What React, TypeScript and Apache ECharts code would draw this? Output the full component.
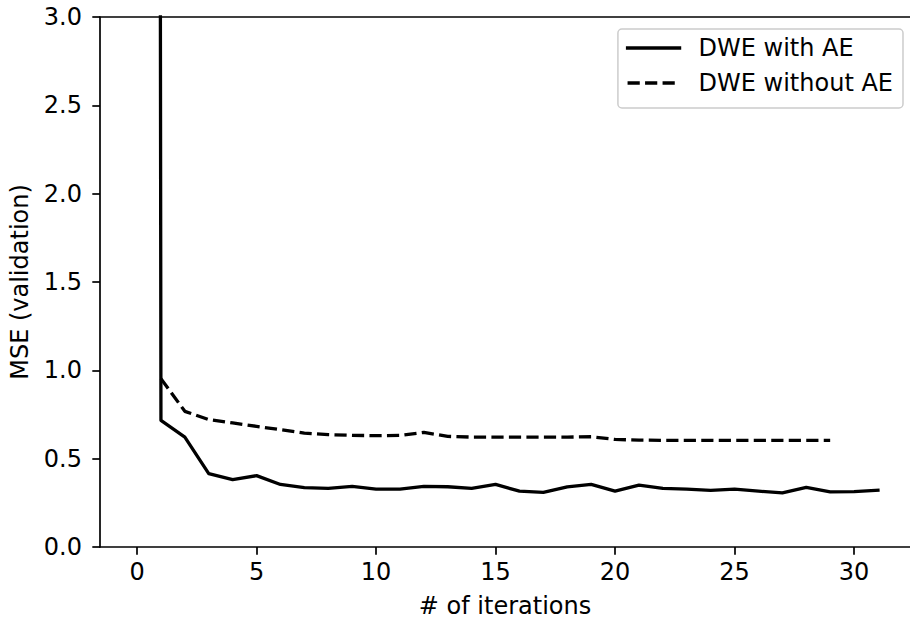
import React, { useEffect, useRef } from "react";
import * as echarts from "echarts";

const solidIterations = [0,1,2,3,4,5,6,7,8,9,10,11,12,13,14,15,16,17,18,19,20,21,22,23,24,25,26,27,28,29,30,31];
const solidValues = [100, 0.717, 0.622, 0.415, 0.381, 0.404, 0.354, 0.336, 0.332, 0.343, 0.328, 0.328, 0.343, 0.341, 0.332, 0.354, 0.316, 0.309, 0.34, 0.354, 0.316, 0.35, 0.332, 0.328, 0.32, 0.328, 0.316, 0.306, 0.338, 0.312, 0.313, 0.321];
const dashedIterations = [1,2,3,4,5,6,7,8,9,10,11,12,13,14,15,16,17,18,19,20,21,22,23,24,25,26,27,28,29];
const dashedValues = [0.953, 0.768, 0.721, 0.702, 0.683, 0.664, 0.645, 0.636, 0.632, 0.63, 0.632, 0.649, 0.626, 0.622, 0.622, 0.622, 0.622, 0.622, 0.624, 0.609, 0.605, 0.604, 0.604, 0.604, 0.603, 0.603, 0.603, 0.603, 0.603];
const xTicks = [0, 5, 10, 15, 20, 25, 30];
const yTicks = [0, 0.5, 1.0, 1.5, 2.0, 2.5, 3.0];
const seriesNames = ["DWE with AE", "DWE without AE"];

const FONT = "'DejaVu Sans', sans-serif";
const FS = 24;
const LW = 3.3;
const DASH = [12.2, 5.3];
const X_MIN = -1.55;
const X_MAX = 32.34;

export default function App() {
  const ref = useRef<HTMLDivElement>(null);
  useEffect(() => {
    document.body.style.margin = "0";
    if (!ref.current) return;
    const chart = echarts.init(ref.current, null, { renderer: "svg" });
    const solid = solidIterations.map((x, i) => [x, solidValues[i]]);
    const dashed = dashedIterations.map((x, i) => [x, dashedValues[i]]);
    chart.setOption({
      animation: false,
      backgroundColor: "#ffffff",
      textStyle: { fontFamily: FONT },
      grid: {
        left: 100,
        top: 17,
        right: 0,
        bottom: 72,
        outerBoundsMode: "none",
        containLabel: false,
        show: false,
      },
      legend: {
        orient: "vertical",
        right: 7,
        top: 29,
        padding: [7, 10, 13, 8],
        itemWidth: 52,
        itemHeight: 14,
        itemGap: 11,
        itemStyle: { opacity: 0 },
        backgroundColor: "rgba(255,255,255,0.8)",
        borderColor: "#cccccc",
        borderWidth: 1.5,
        borderRadius: 4,
        textStyle: { fontFamily: FONT, fontSize: FS, color: "#000", lineHeight: 24, padding: [0, 0, 0, 14] },
        data: [
          { name: seriesNames[0], lineStyle: { color: "#000", width: LW, type: "solid" } },
          { name: seriesNames[1], lineStyle: { color: "#000", width: LW, type: DASH } },
        ],
      },
      xAxis: [
        {
          type: "value",
          min: X_MIN,
          max: X_MAX,
          name: "# of iterations",
          nameLocation: "middle",
          nameGap: 47,
          nameTextStyle: { fontFamily: FONT, fontSize: FS, color: "#000" },
          axisLine: { show: true, onZero: false, lineStyle: { color: "#000", width: 1.7 } },
          axisTick: { show: true, length: 7.7, lineStyle: { color: "#000", width: 1.7 }, customValues: xTicks },
          axisLabel: { fontFamily: FONT, fontSize: FS, color: "#000", margin: 13, customValues: xTicks },
          splitLine: { show: false },
        },
        {
          type: "value",
          position: "top",
          min: X_MIN,
          max: X_MAX,
          axisLine: { show: true, onZero: false, lineStyle: { color: "#000", width: 1.7 } },
          axisTick: { show: false },
          axisLabel: { show: false },
          splitLine: { show: false },
        },
      ],
      yAxis: {
        type: "value",
        min: 0,
        max: 3,
        interval: 0.5,
        name: "MSE (validation)",
        nameLocation: "middle",
        nameGap: 68,
        nameRotate: 90,
        nameTextStyle: { fontFamily: FONT, fontSize: FS, color: "#000" },
        axisLine: { show: true, onZero: false, lineStyle: { color: "#000", width: 1.7 } },
        axisTick: { show: true, length: 7.7, lineStyle: { color: "#000", width: 1.7 }, customValues: yTicks },
        axisLabel: {
          fontFamily: FONT,
          fontSize: FS,
          color: "#000",
          margin: 18,
          customValues: yTicks,
          formatter: (v: number) => v.toFixed(1),
        },
        splitLine: { show: false },
      },
      series: [
        {
          name: seriesNames[0],
          type: "line",
          data: solid,
          showSymbol: false,
          symbol: "none",
          clip: true,
          lineStyle: { color: "#000", width: LW, type: "solid", cap: "square", join: "round" },
          itemStyle: { color: "#000" },
        },
        {
          name: seriesNames[1],
          type: "line",
          data: dashed,
          showSymbol: false,
          symbol: "none",
          clip: true,
          lineStyle: { color: "#000", width: LW, type: DASH, cap: "butt", join: "round" },
          itemStyle: { color: "#000" },
        },
      ],
    });
    return () => chart.dispose();
  }, []);
  return <div ref={ref} style={{ width: 910, height: 619 }} />;
}
